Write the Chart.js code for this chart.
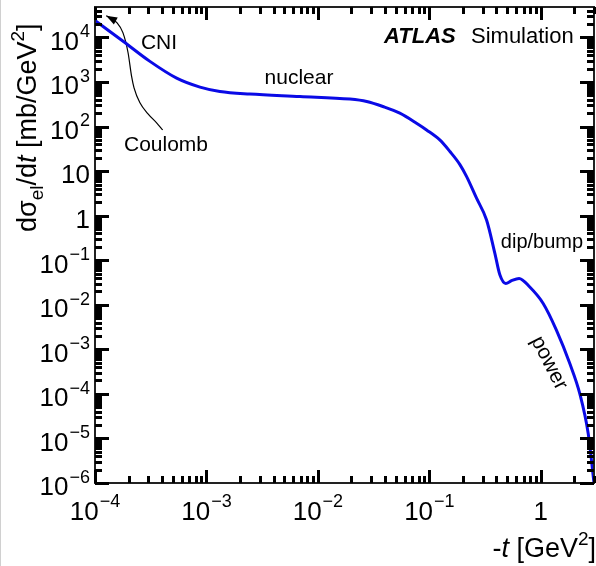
<!DOCTYPE html>
<html lang="en">
<head>
  <meta charset="UTF-8">
  <title>Elastic cross section</title>
  <script src="https://cdn.jsdelivr.net/npm/chart.js"></script>
  <style>
    html, body {
      margin: 0;
      padding: 0;
      background: #fff;
    }
    .chart-container {
      width: 596px;
      height: 566px;
      border-left: 1px solid #d0d0d0;
      box-sizing: border-box;
    }
  </style>
</head>
<body>

<div class="chart-container">
  <canvas id="dsigmaChart" width="595" height="566"></canvas>
</div>

<script>
// -t [GeV^2] and dsigma_el/dt [mb/GeV^2]
const tValues = [1.0e-4, 1.34e-4, 1.8e-4, 3.11e-4, 5.4e-4, 8.75e-4, 1.32e-3, 2.45e-3, 6.9e-3,
  0.0194, 0.0274, 0.0383, 0.0543, 0.0767, 0.0944, 0.124, 0.153, 0.188, 0.216, 0.265,
  0.326, 0.387, 0.429, 0.485, 0.546, 0.638, 0.796, 1.05, 1.38, 1.82, 2.24, 2.66, 3.0];
const sigmaValues = [2.4e4, 1.4e4, 8.1e3, 2.9e3, 1.22e3, 768, 612, 535, 472,
  413, 365, 282, 200, 119, 84, 50, 27.5, 14, 7.5, 2.46,
  0.80, 0.143, 0.047, 0.030, 0.0347, 0.039, 0.025, 0.0107, 2.7e-3, 4.8e-4, 1.0e-4, 1.3e-5, 1.0e-6];

// Coulomb annotation curve (tip of the arrow first)
const coulombT = [1.26e-4, 1.36e-4, 1.57e-4, 1.78e-4, 1.98e-4, 2.13e-4, 2.24e-4, 2.53e-4, 2.99e-4, 3.57e-4, 4.05e-4];
const coulombSigma = [3.08e4, 2.77e4, 2.14e4, 1.28e4, 4530, 1330, 741, 341, 193, 121, 84];

const xMin = 1e-4, xMax = 3;
const yMin = 1e-6, yMax = 4.82e4;
const xDecades = [-4, -3, -2, -1, 0];
const yDecades = [-6, -5, -4, -3, -2, -1, 0, 1, 2, 3, 4];
const xTickLabels = [['10', '\u22124'], ['10', '\u22123'], ['10', '\u22122'], ['10', '\u22121'], ['1', '']];
const yTickLabels = [['10', '\u22126'], ['10', '\u22125'], ['10', '\u22124'], ['10', '\u22123'], ['10', '\u22122'],
  ['10', '\u22121'], ['1', ''], ['10', ''], ['10', '2'], ['10', '3'], ['10', '4']];

const FONT = '"Liberation Sans", Arial, Helvetica, sans-serif';

function toPoints(xs, ys) {
  return xs.map((v, i) => ({ x: v, y: ys[i] }));
}

function drawPieces(ctx, pieces, startX, baseline) {
  let xPos = startX;
  pieces.forEach(p => {
    ctx.font = p.font;
    ctx.fillText(p.text, xPos, baseline + (p.dy || 0));
    xPos += ctx.measureText(p.text).width + (p.gap || 0);
  });
  return xPos;
}

function piecesWidth(ctx, pieces) {
  let w = 0;
  pieces.forEach(p => {
    ctx.font = p.font;
    w += ctx.measureText(p.text).width + (p.gap || 0);
  });
  return w;
}

function powPieces(lbl) {
  const out = [{ text: lbl[0], font: '26px ' + FONT, gap: lbl[1] ? 1 : 0 }];
  if (lbl[1]) out.push({ text: lbl[1], font: '18px ' + FONT, dy: -12.5 });
  return out;
}

// tick values 1..9 x 10^d up to hi
function logTicks(decades, hi) {
  const out = [];
  decades.forEach(d => {
    for (let m = 1; m <= 9; m++) {
      const v = m * Math.pow(10, d);
      if (v <= hi * 1.0001) out.push({ v: v, major: m === 1 });
    }
  });
  return out;
}

const rootStyle = {
  id: 'rootStyle',
  afterDraw(chart) {
    const c = chart.ctx;
    const a = chart.chartArea;
    const xs = chart.scales.x, ys = chart.scales.y;
    c.save();
    c.setLineDash([]);
    c.fillStyle = '#000';
    c.textBaseline = 'alphabetic';

    // arrow head at the tip of the Coulomb curve
    const meta = chart.getDatasetMeta(1);
    const p0 = meta.data[0], p1 = meta.data[1];
    const ang = Math.atan2(p0.y - p1.y, p0.x - p1.x);
    c.beginPath();
    c.moveTo(p0.x, p0.y);
    c.lineTo(p0.x - 11 * Math.cos(ang) + 4 * Math.sin(ang), p0.y - 11 * Math.sin(ang) - 4 * Math.cos(ang));
    c.lineTo(p0.x - 11 * Math.cos(ang) - 4 * Math.sin(ang), p0.y - 11 * Math.sin(ang) + 4 * Math.cos(ang));
    c.closePath();
    c.fill();

    // frame
    c.lineWidth = 2;
    c.strokeStyle = '#222';
    c.strokeRect(a.left, a.top, a.right - a.left, a.bottom - a.top);

    // tick labels
    xDecades.forEach((d, i) => {
      const pcs = powPieces(xTickLabels[i]);
      const px = xs.getPixelForValue(Math.pow(10, d));
      drawPieces(c, pcs, px - piecesWidth(c, pcs) / 2, a.bottom + 36.5);
    });
    yDecades.forEach((d, i) => {
      const pcs = powPieces(yTickLabels[i]);
      const py = ys.getPixelForValue(Math.pow(10, d));
      drawPieces(c, pcs, 89 - piecesWidth(c, pcs), py + 12.3);
    });

    // x title
    const big = '27px ' + FONT;
    const xTitle = [
      { text: '-', font: big },
      { text: 't', font: 'italic ' + big },
      { text: ' [GeV', font: big },
      { text: '2', font: '19px ' + FONT, dy: -12 },
      { text: ']', font: big }
    ];
    drawPieces(c, xTitle, 595 - piecesWidth(c, xTitle), 557);

    // y title
    c.save();
    c.translate(35, 232);
    c.rotate(-Math.PI / 2);
    drawPieces(c, [
      { text: 'd\u03c3', font: big },
      { text: 'el', font: '19px ' + FONT, dy: 7 },
      { text: '/d', font: big },
      { text: 't', font: 'italic ' + big },
      { text: ' [mb/GeV', font: big },
      { text: '2', font: '19px ' + FONT, dy: -12 },
      { text: ']', font: big }
    ], 0, 0);
    c.restore();

    // annotations
    const ann = '21px ' + FONT;
    c.font = ann;
    c.textAlign = 'center';
    c.textBaseline = 'middle';
    c.fillText('CNI', 158, 43);
    c.fillText('Coulomb', 165, 145);
    c.fillText('nuclear', 298, 78);
    c.font = '20px ' + FONT;
    c.fillText('dip/bump', 541, 242);
    c.save();
    c.translate(548, 363);
    c.rotate(63 * Math.PI / 180);
    c.font = ann;
    c.fillText('power', 0, 0);
    c.restore();

    c.textAlign = 'left';
    c.textBaseline = 'alphabetic';
    c.font = 'bold italic 22px ' + FONT;
    c.fillText('ATLAS', 383, 43);
    c.font = '22px ' + FONT;
    c.fillText('Simulation', 470, 43);

    // ticks, all four sides, pointing inwards
    const xTicks = logTicks(xDecades, xMax);
    const yTicks = logTicks(yDecades, yMax);
    c.strokeStyle = '#000';
    c.lineWidth = 3;
    xTicks.forEach(t => {
      const px = Math.round(xs.getPixelForValue(t.v)) + 0.5;
      const len = t.major ? 13 : 7;
      c.beginPath();
      c.moveTo(px, a.bottom); c.lineTo(px, a.bottom - len);
      c.moveTo(px, a.top); c.lineTo(px, a.top + len);
      c.stroke();
    });
    yTicks.forEach(t => {
      const py = Math.round(ys.getPixelForValue(t.v)) + 0.5;
      const len = t.major ? 14 : 7;
      c.beginPath();
      c.moveTo(a.left, py); c.lineTo(a.left + len, py);
      c.moveTo(a.right, py); c.lineTo(a.right - len, py);
      c.stroke();
    });

    c.restore();
  }
};

const ctx = document.getElementById('dsigmaChart').getContext('2d');

new Chart(ctx, {
  type: 'scatter',
  data: {
    datasets: [{
      label: 'dsigma/dt',
      data: toPoints(tValues, sigmaValues),
      showLine: true,
      borderColor: '#0a0ae6',
      borderWidth: 3,
      pointRadius: 0,
      cubicInterpolationMode: 'monotone'
    }, {
      label: 'Coulomb',
      data: toPoints(coulombT, coulombSigma),
      showLine: true,
      borderColor: '#000',
      borderWidth: 1.2,
      pointRadius: 0,
      cubicInterpolationMode: 'monotone'
    }]
  },
  options: {
    responsive: false,
    animation: false,
    events: [],
    layout: {
      autoPadding: false,
      padding: { left: 94, top: 7, right: 2, bottom: 83 }
    },
    scales: {
      x: { type: 'logarithmic', min: xMin, max: xMax, display: false },
      y: { type: 'logarithmic', min: yMin, max: yMax, display: false }
    },
    plugins: {
      legend: { display: false },
      tooltip: { enabled: false }
    }
  },
  plugins: [rootStyle]
});
</script>

</body>
</html>
